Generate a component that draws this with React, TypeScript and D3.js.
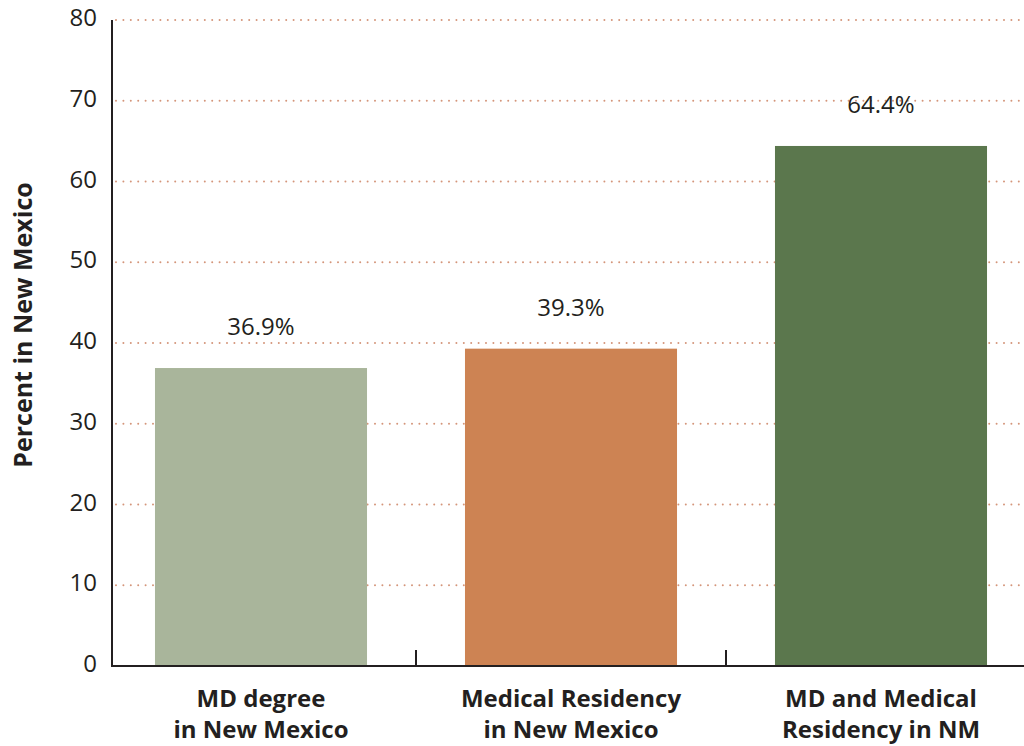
import * as d3 from 'd3';

const categories = ['MD degree|in New Mexico', 'Medical Residency|in New Mexico', 'MD and Medical|Residency in NM'];
const values = [36.9, 39.3, 64.4];
const barColors = ['#a9b59b', '#cd8353', '#5b774d'];
const yTicks = [0, 10, 20, 30, 40, 50, 60, 70, 80];

const W = 1024;
const H = 746;
const font = '"Open Sans", "Noto Sans", sans-serif';
const ink = '#231f20';

export default function App() {
  const x = d3
    .scaleBand<string>()
    .domain(categories)
    .range([106, 1036])
    .paddingInner(0.316)
    .paddingOuter(0.158);
  const y = d3.scaleLinear().domain([0, 80]).range([666, 20]);
  const axisX = 112;

  return (
    <svg
      width={W}
      height={H}
      style={{ position: 'absolute', left: 0, top: 0, background: '#fff' }}
      fontFamily={font}
    >
      {/* gridlines */}
      {yTicks.filter((t) => t > 0).map((t) => (
        <line
          key={t}
          x1={axisX + 4}
          x2={W}
          y1={y(t)}
          y2={y(t)}
          stroke="#d4957a"
          strokeWidth={2}
          strokeDasharray="0 7.4"
          strokeLinecap="round"
        />
      ))}

      {/* bars */}
      {categories.map((c, i) => (
        <rect
          key={c}
          x={x(c)}
          y={y(values[i])}
          width={x.bandwidth()}
          height={y(0) - y(values[i])}
          fill={barColors[i]}
        />
      ))}

      {/* value labels */}
      {categories.map((c, i) => (
        <text
          key={c}
          x={x(c)! + x.bandwidth() / 2}
          y={y(values[i]) - 33}
          textAnchor="middle"
          fontSize={24}
          fill={ink}
        >
          {values[i].toFixed(1)}%
        </text>
      ))}

      {/* axes */}
      <line x1={axisX} x2={axisX} y1={y(80)} y2={y(0) + 1} stroke={ink} strokeWidth={2} />
      <line x1={axisX - 1} x2={W} y1={y(0)} y2={y(0)} stroke={ink} strokeWidth={2} />
      {categories.slice(1).map((c) => {
        const bx = x(c)! - (x.step() - x.bandwidth()) / 2;
        return <line key={c} x1={bx} x2={bx} y1={y(0)} y2={y(0) - 16} stroke={ink} strokeWidth={2} />;
      })}

      {/* y tick labels */}
      {yTicks.map((t) => (
        <text key={t} x={97} y={y(t) + 6} textAnchor="end" fontSize={24} fill={ink}>
          {t}
        </text>
      ))}

      {/* category labels */}
      {categories.map((c) => (
        <text
          key={c}
          x={x(c)! + x.bandwidth() / 2}
          textAnchor="middle"
          fontSize={24}
          fontWeight="bold"
          fill={ink}
        >
          {c.split('|').map((line, j) => (
            <tspan key={j} x={x(c)! + x.bandwidth() / 2} y={707 + j * 31}>
              {line}
            </tspan>
          ))}
        </text>
      ))}

      {/* y axis title */}
      <text
        transform="translate(32,325) rotate(-90)"
        textAnchor="middle"
        fontSize={25}
        fontWeight="bold"
        fill={ink}
      >
        Percent in New Mexico
      </text>
    </svg>
  );
}
